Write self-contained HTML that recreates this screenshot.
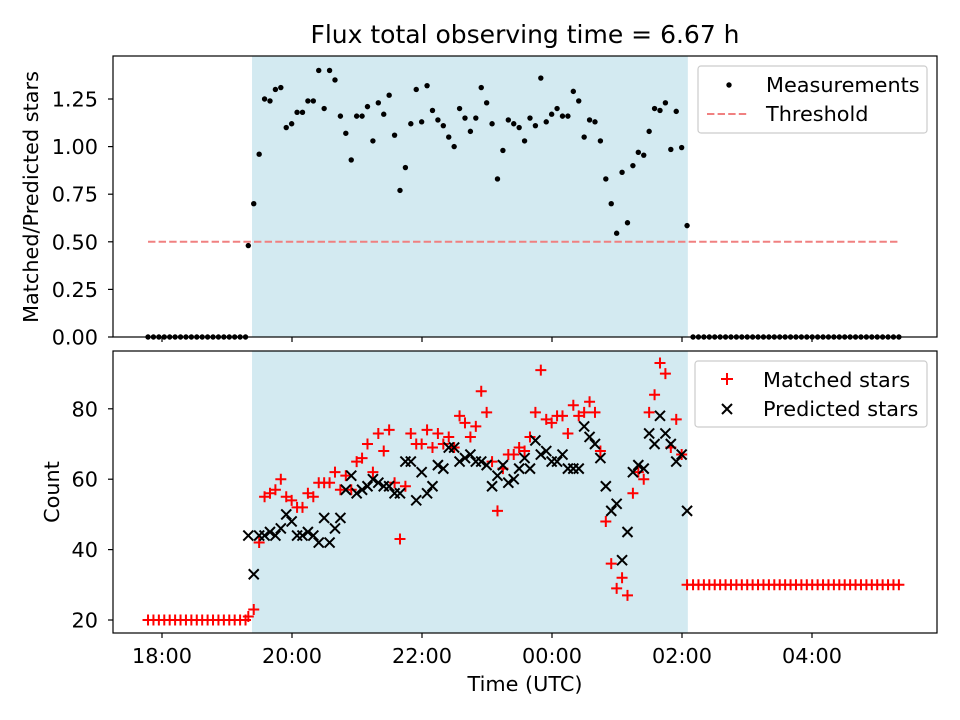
<!DOCTYPE html>
<html><head><meta charset="utf-8"><style>body{margin:0;background:#fff}svg{display:block;font-family:"DejaVu Sans","Liberation Sans",sans-serif}</style></head>
<body>
<svg id="c" width="960" height="720" viewBox="0 0 960 720" xmlns="http://www.w3.org/2000/svg"></svg>
<script>
const xTickHours=[18,20,22,24,26,28];
const xTickLabels=["18:00","20:00","22:00","00:00","02:00","04:00"];
const topTicks=[0,0.25,0.5,0.75,1.0,1.25];
const topTickLabels=["0.00","0.25","0.50","0.75","1.00","1.25"];
const botTicks=[20,40,60,80];
const preStart=17.785, activeStart=19.328, postStart=26.17, stepH=5/60;
const preCount=19, postCount=39;
const shadeStart=19.385, shadeEnd=26.09;
const thresholdValue=0.5;
const ratio=[0.48,0.70,0.96,1.25,1.24,1.30,1.31,1.10,1.12,1.18,1.18,1.24,1.24,1.40,1.20,1.40,1.35,1.16,1.07,0.93,1.16,1.16,1.21,1.03,1.23,1.17,1.27,1.06,0.77,0.89,1.12,1.30,1.13,1.32,1.19,1.14,1.11,1.05,1.00,1.20,1.15,1.08,1.15,1.31,1.23,1.12,0.83,0.98,1.14,1.12,1.10,1.03,1.15,1.11,1.36,1.13,1.17,1.20,1.16,1.16,1.29,1.24,1.05,1.14,1.13,1.03,0.83,0.70,0.545,0.865,0.60,0.90,0.97,0.955,1.08,1.20,1.19,1.23,0.985,1.185,0.995,0.585];
const predicted=[44,33,44,44,45,44,46,50,48,44,44,45,44,42,49,42,46,49,57,61,56,57,58,60,59,58,58,56,56,65,65,54,62,56,58,64,63,69,69,65,66,67,65,65,64,58,61,64,59,60,63,66,63,71,67,68,65,65,67,63,63,63,75,72,70,66,58,51,53,37,45,62,64,63,73,70,78,73,70,65,67,51];
const matched=[21,23,42,55,56,57,60,55,54,52,52,56,55,59,59,59,62,57,61,57,65,66,70,62,73,68,74,59,43,58,73,70,70,74,69,73,70,72,69,78,76,72,75,85,79,65,51,63,67,67,69,68,72,79,91,77,76,78,78,73,81,78,79,82,79,68,48,36,29,32,27,56,62,60,79,84,93,90,69,77,67,30];
const preMatched=20, postMatched=30;

const NS="http://www.w3.org/2000/svg";
const svg=document.getElementById('c');
function mk(tag,attrs,parent,text){const e=document.createElementNS(NS,tag);for(const k in attrs)e.setAttribute(k,attrs[k]);if(text!==undefined)e.textContent=text;(parent||svg).appendChild(e);return e;}
const L=113,R=937,T1=56,B1=337,T2=351,B2=633;
const X=t=>162+(t-18)*65;
const Y1=v=>337-v*190.4;
const Y2=v=>620-(v-20)*3.52;
const FS=20.8;

[[T1,B1],[T2,B2]].forEach(([t,b],i)=>{
 const r=mk('rect',{x:X(shadeStart),y:t,width:X(shadeEnd)-X(shadeStart),height:b-t,fill:'#d3eaf1'});
 
 
});
const th=mk('line',{x1:X(preStart),x2:X(postStart+(postCount-1)*stepH),y1:Y1(thresholdValue),y2:Y1(thresholdValue),stroke:'#f08080','stroke-width':2,'stroke-dasharray':'7.4,3.2'});



const gTop=mk('g',{});


function dot(t,v){const c=mk('circle',{cx:X(t),cy:Y1(v),r:2.7,fill:'#000'},gTop);}
for(let i=0;i<preCount;i++)dot(preStart+i*stepH,0);
ratio.forEach((v,i)=>dot(activeStart+i*stepH,v));
for(let i=0;i<postCount;i++)dot(postStart+i*stepH,0);

const gM=mk('g',{stroke:'#ff0000','stroke-width':2,fill:'none'});


function plus(t,v){const x=X(t),y=Y2(v);const p=mk('path',{d:`M${x-5.5},${y}H${x+5.5}M${x},${y-5.5}V${y+5.5}`},gM);}
for(let i=0;i<preCount;i++)plus(preStart+i*stepH,preMatched);
matched.forEach((v,i)=>plus(activeStart+i*stepH,v));
for(let i=0;i<postCount;i++)plus(postStart+i*stepH,postMatched);
const gP=mk('g',{stroke:'#000','stroke-width':2,fill:'none'});


predicted.forEach((v,i)=>{const x=X(activeStart+i*stepH),y=Y2(v);const p=mk('path',{d:`M${x-5},${y-5}L${x+5},${y+5}M${x-5},${y+5}L${x+5},${y-5}`},gP);});

[[T1,B1,'top-axes'],[T2,B2,'bottom-axes']].forEach(([t,b,n])=>{const r=mk('rect',{x:L,y:t,width:R-L,height:b-t,fill:'none',stroke:'#000','stroke-width':1.2});});
xTickHours.forEach((h,i)=>{const x=X(h);
 mk('line',{x1:x,x2:x,y1:B1,y2:B1+5,stroke:'#000','stroke-width':1.2});
 mk('line',{x1:x,x2:x,y1:B2,y2:B2+5,stroke:'#000','stroke-width':1.2});
 const t=mk('text',{x:x,y:663,'font-size':FS,'text-anchor':'middle'},svg,xTickLabels[i]);
 });
topTicks.forEach((v,i)=>{const y=Y1(v);mk('line',{x1:L-5,x2:L,y1:y,y2:y,stroke:'#000','stroke-width':1.2});
 const t=mk('text',{x:L-15,y:y+7.5,'font-size':FS,'text-anchor':'end'},svg,topTickLabels[i]);
 });
botTicks.forEach(v=>{const y=Y2(v);mk('line',{x1:L-5,x2:L,y1:y,y2:y,stroke:'#000','stroke-width':1.2});
 const t=mk('text',{x:L-15,y:y+7.5,'font-size':FS,'text-anchor':'end'},svg,String(v));
 });
let e;
e=mk('text',{x:525,y:43,'font-size':25,'text-anchor':'middle'},svg,'Flux total observing time = 6.67 h');
e=mk('text',{x:525,y:691,'font-size':FS,'text-anchor':'middle'},svg,'Time (UTC)');
e=mk('text',{x:0,y:0,'font-size':FS,'text-anchor':'middle',transform:'translate(38,197) rotate(-90)'},svg,'Matched/Predicted stars');
e=mk('text',{x:0,y:0,'font-size':FS,'text-anchor':'middle',transform:'translate(59,492) rotate(-90)'},svg,'Count');

const lg1=mk('g',{});
mk('rect',{x:698,y:66,width:229,height:67,rx:3,fill:'#fff','fill-opacity':0.8,stroke:'#ccc','stroke-width':1.2},lg1);
mk('circle',{cx:729,cy:85,r:2.7,fill:'#000'},lg1);
e=mk('text',{x:766,y:92,'font-size':FS},lg1,'Measurements');
mk('line',{x1:707,x2:749,y1:114,y2:114,stroke:'#f08080','stroke-width':2,'stroke-dasharray':'7.4,3.2'},lg1);
e=mk('text',{x:766,y:121,'font-size':FS},lg1,'Threshold');
const lg2=mk('g',{});
mk('rect',{x:695,y:361,width:232,height:66,rx:3,fill:'#fff','fill-opacity':0.8,stroke:'#ccc','stroke-width':1.2},lg2);
mk('path',{d:'M721,379H733M727,373V385',stroke:'#f00','stroke-width':2},lg2);
e=mk('text',{x:763,y:387,'font-size':FS},lg2,'Matched stars');
mk('path',{d:'M722,404L732,414M722,414L732,404',stroke:'#000','stroke-width':2},lg2);
e=mk('text',{x:763,y:416,'font-size':FS},lg2,'Predicted stars');
</script>
</body></html>
